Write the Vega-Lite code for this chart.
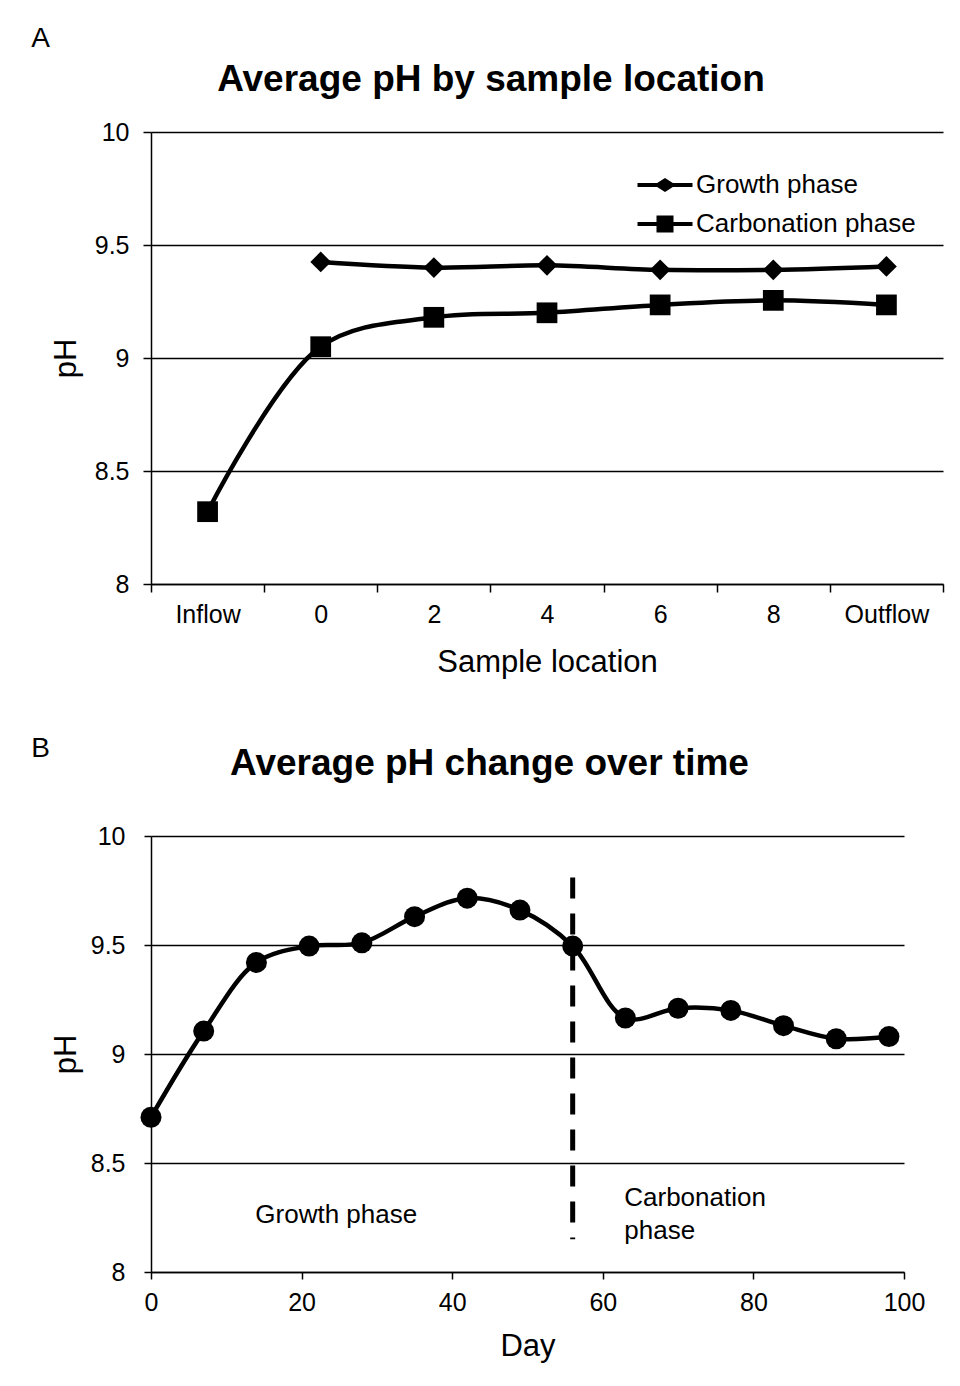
{
  "$schema": "https://vega.github.io/schema/vega-lite/v6.json",
  "background": "white",
  "padding": {"left": 31, "top": 25, "right": 5, "bottom": 5},
  "spacing": 58,
  "config": {
    "font": "Liberation Sans",
    "view": {"stroke": null},
    "axis": {
      "domainColor": "black", "tickColor": "black", "gridColor": "black",
      "labelColor": "black", "titleColor": "black",
      "labelFontSize": 25, "titleFontSize": 31, "titleFontWeight": "normal",
      "labelFont": "Liberation Sans", "titleFont": "Liberation Sans",
      "domainWidth": 1.5, "tickWidth": 1.5, "gridWidth": 1.3, "tickSize": 8
    },
    "title": {"color": "black", "font": "Liberation Sans"},
    "legend": {"labelFont": "Liberation Sans"}
  },
  "datasets": {
    "loc": [
      {"series": "Growth phase", "location": "0", "pH": 9.425},
      {"series": "Growth phase", "location": "2", "pH": 9.40},
      {"series": "Growth phase", "location": "4", "pH": 9.41},
      {"series": "Growth phase", "location": "6", "pH": 9.39},
      {"series": "Growth phase", "location": "8", "pH": 9.39},
      {"series": "Growth phase", "location": "Outflow", "pH": 9.405},
      {"series": "Carbonation phase", "location": "Inflow", "pH": 8.32},
      {"series": "Carbonation phase", "location": "0", "pH": 9.05},
      {"series": "Carbonation phase", "location": "2", "pH": 9.18},
      {"series": "Carbonation phase", "location": "4", "pH": 9.20},
      {"series": "Carbonation phase", "location": "6", "pH": 9.235},
      {"series": "Carbonation phase", "location": "8", "pH": 9.255},
      {"series": "Carbonation phase", "location": "Outflow", "pH": 9.235}
    ],
    "time": [
      {"day": 0, "pH": 8.71},
      {"day": 7, "pH": 9.105},
      {"day": 14, "pH": 9.42},
      {"day": 21, "pH": 9.495},
      {"day": 28, "pH": 9.51},
      {"day": 35, "pH": 9.63},
      {"day": 42, "pH": 9.715},
      {"day": 49, "pH": 9.66},
      {"day": 56, "pH": 9.495},
      {"day": 63, "pH": 9.165},
      {"day": 70, "pH": 9.21},
      {"day": 77, "pH": 9.20},
      {"day": 84, "pH": 9.13},
      {"day": 91, "pH": 9.07},
      {"day": 98, "pH": 9.08}
    ],
    "phase": [
      {"day": 56, "top": 9.81, "bottom": 8.15}
    ],
    "notes": [
      {"day": 24.6, "pH": 8.26, "text": "Growth phase", "align": "center"},
      {"day": 62.85, "pH": 8.34, "text": "Carbonation", "align": "left"},
      {"day": 62.85, "pH": 8.19, "text": "phase", "align": "left"}
    ]
  },
  "vconcat": [
    {
      "title": {"text": "A", "anchor": "start", "fontSize": 28, "fontWeight": "normal", "dx": -19, "offset": 8},
      "vconcat": [
        {
          "width": 792,
          "height": 452,
          "title": {"text": "Average pH by sample location", "fontSize": 37, "fontWeight": "bold", "anchor": "middle", "dx": -56, "offset": 21},
          "data": {"name": "loc"},
          "encoding": {
            "x": {
              "field": "location", "type": "nominal",
              "sort": ["Inflow", "0", "2", "4", "6", "8", "Outflow"],
              "bandPosition": 0.5,
              "scale": {"type": "band", "paddingInner": 0, "paddingOuter": 0, "domain": ["Inflow", "0", "2", "4", "6", "8", "Outflow"]},
              "axis": {"title": "Sample location", "labelAngle": 0, "tickBand": "extent", "labelPadding": 10, "titlePadding": 20}
            },
            "y": {
              "field": "pH", "type": "quantitative",
              "scale": {"domain": [8, 10], "zero": false, "nice": false},
              "axis": {"title": "pH", "values": [8, 8.5, 9, 9.5, 10], "format": "~f", "grid": true, "labelPadding": 14, "titlePadding": 12}
            }
          },
          "layer": [
            {
              "mark": {"type": "line", "interpolate": "catmull-rom", "strokeWidth": 4.5, "color": "black"},
              "encoding": {"detail": {"field": "series", "type": "nominal"}}
            },
            {
              "transform": [{"filter": "datum.series === 'Growth phase'"}],
              "mark": {"type": "point", "shape": "diamond", "filled": true, "color": "black", "opacity": 1, "size": 430}
            },
            {
              "transform": [{"filter": "datum.series === 'Carbonation phase'"}],
              "mark": {"type": "point", "shape": "square", "filled": true, "color": "black", "opacity": 1, "size": 430}
            },
            {
              "transform": [{"filter": "false"}],
              "mark": {"type": "point", "filled": true, "color": "black", "opacity": 1},
              "encoding": {
                "shape": {
                  "field": "series", "type": "nominal",
                  "scale": {
                    "domain": ["Growth phase", "Carbonation phase"],
                    "range": [
                      "M-5.5,-0.4H5.5V0.4H-5.5ZM-2.2,0L0,-1.4L2.2,0L0,1.4Z",
                      "M-5.5,-0.4H5.5V0.4H-5.5ZM-1.7,-1.7H1.7V1.7H-1.7Z"
                    ]
                  },
                  "legend": {
                    "title": null, "orient": "none", "legendX": 501, "legendY": 40,
                    "padding": 0, "labelFontSize": 26, "labelColor": "black", "labelLimit": 500,
                    "symbolSize": 100, "labelOffset": 18, "rowPadding": 13,
                    "symbolFillColor": "black", "symbolStrokeColor": "black", "symbolStrokeWidth": 0.5, "symbolOpacity": 1
                  }
                }
              }
            }
          ]
        }
      ]
    },
    {
      "title": {"text": "B", "anchor": "start", "fontSize": 28, "fontWeight": "normal", "dx": -19, "offset": -18},
      "vconcat": [
        {
          "width": 753,
          "height": 436,
          "title": {"text": "Average pH change over time", "fontSize": 37, "fontWeight": "bold", "anchor": "middle", "dx": -38, "offset": 41},
          "layer": [
            {
              "data": {"name": "time"},
              "mark": {"type": "line", "interpolate": "catmull-rom", "strokeWidth": 4.5, "color": "black"},
              "encoding": {
                "x": {
                  "field": "day", "type": "quantitative",
                  "scale": {"domain": [0, 100], "nice": false},
                  "axis": {"title": "Day", "values": [0, 20, 40, 60, 80, 100], "grid": false, "tickSize": 7, "labelPadding": 11, "titlePadding": 16, "labelFlush": false}
                },
                "y": {
                  "field": "pH", "type": "quantitative",
                  "scale": {"domain": [8, 10], "zero": false, "nice": false},
                  "axis": {"title": "pH", "values": [8, 8.5, 9, 9.5, 10], "format": "~f", "grid": true, "tickSize": 7, "labelPadding": 19, "titlePadding": 8}
                }
              }
            },
            {
              "data": {"name": "time"},
              "mark": {"type": "point", "shape": "circle", "filled": true, "color": "black", "opacity": 1, "size": 441},
              "encoding": {
                "x": {"field": "day", "type": "quantitative"},
                "y": {"field": "pH", "type": "quantitative"}
              }
            },
            {
              "data": {"name": "phase"},
              "mark": {"type": "rule", "color": "black", "strokeWidth": 5, "strokeDash": [21, 15]},
              "encoding": {
                "x": {"field": "day", "type": "quantitative"},
                "y": {"field": "top", "type": "quantitative"},
                "y2": {"field": "bottom"}
              }
            },
            {
              "data": {"name": "notes"},
              "transform": [{"filter": "datum.align === 'center'"}],
              "mark": {"type": "text", "fontSize": 26, "color": "black", "align": "center", "baseline": "middle"},
              "encoding": {
                "x": {"field": "day", "type": "quantitative"},
                "y": {"field": "pH", "type": "quantitative"},
                "text": {"field": "text"}
              }
            },
            {
              "data": {"name": "notes"},
              "transform": [{"filter": "datum.align === 'left'"}],
              "mark": {"type": "text", "fontSize": 26, "color": "black", "align": "left", "baseline": "middle"},
              "encoding": {
                "x": {"field": "day", "type": "quantitative"},
                "y": {"field": "pH", "type": "quantitative"},
                "text": {"field": "text"}
              }
            }
          ]
        }
      ]
    }
  ]
}
